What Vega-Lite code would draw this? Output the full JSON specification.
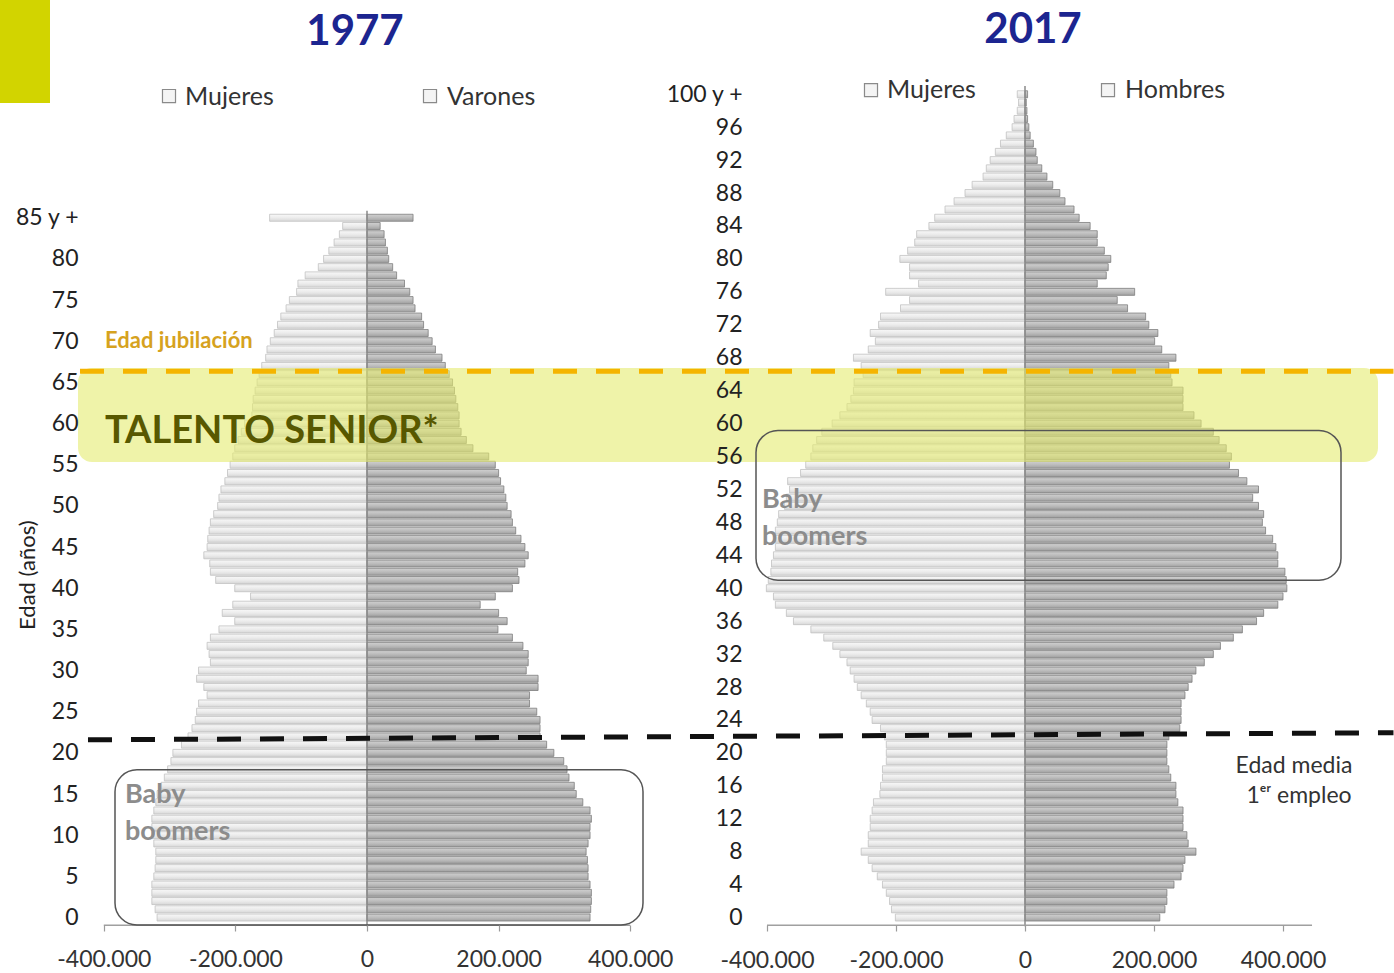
{
"$schema": "https://vega.github.io/schema/vega-lite/v6.json",
"width": 1394, "height": 973, "autosize": {"type": "none"}, "padding": 0,
"background": "white",
"config": {"view": {"stroke": null}, "font": "Lato", "axis": {"grid": false}},
"datasets": {
"y1977": [
{"a":0,"m":-319000,"v":339000},{"a":1,"m":-322000,"v":340000},{"a":2,"m":-327000,"v":341000},{"a":3,"m":-327000,"v":341000},{"a":4,"m":-327000,"v":339000},
{"a":5,"m":-324000,"v":336000},{"a":6,"m":-322000,"v":336000},{"a":7,"m":-321000,"v":335000},{"a":8,"m":-321000,"v":333000},{"a":9,"m":-324000,"v":336000},
{"a":10,"m":-327000,"v":339000},{"a":11,"m":-327000,"v":339000},{"a":12,"m":-327000,"v":341000},{"a":13,"m":-324000,"v":339000},{"a":14,"m":-321000,"v":328000},
{"a":15,"m":-319000,"v":318000},{"a":16,"m":-313000,"v":315000},{"a":17,"m":-308000,"v":307000},{"a":18,"m":-303000,"v":304000},{"a":19,"m":-298000,"v":299000},
{"a":20,"m":-295000,"v":284000},{"a":21,"m":-282000,"v":273000},{"a":22,"m":-272000,"v":263000},{"a":23,"m":-266000,"v":263000},{"a":24,"m":-261000,"v":263000},
{"a":25,"m":-259000,"v":258000},{"a":26,"m":-256000,"v":247000},{"a":27,"m":-243000,"v":247000},{"a":28,"m":-248000,"v":260000},{"a":29,"m":-259000,"v":260000},
{"a":30,"m":-256000,"v":242000},{"a":31,"m":-238000,"v":245000},{"a":32,"m":-240000,"v":245000},{"a":33,"m":-243000,"v":237000},{"a":34,"m":-238000,"v":221000},
{"a":35,"m":-225000,"v":199000},{"a":36,"m":-201000,"v":213000},{"a":37,"m":-220000,"v":200000},{"a":38,"m":-204000,"v":172000},{"a":39,"m":-177000,"v":195000},
{"a":40,"m":-201000,"v":221000},{"a":41,"m":-230000,"v":231000},{"a":42,"m":-238000,"v":229000},{"a":43,"m":-239000,"v":240000},{"a":44,"m":-248000,"v":245000},
{"a":45,"m":-243000,"v":240000},{"a":46,"m":-242000,"v":234000},{"a":47,"m":-240000,"v":226000},{"a":48,"m":-238000,"v":221000},{"a":49,"m":-233000,"v":219000},
{"a":50,"m":-227000,"v":213000},{"a":51,"m":-225000,"v":211000},{"a":52,"m":-222000,"v":208000},{"a":53,"m":-216000,"v":203000},{"a":54,"m":-212000,"v":200000},
{"a":55,"m":-208000,"v":195000},{"a":56,"m":-204000,"v":185000},{"a":57,"m":-201000,"v":161000},{"a":58,"m":-196000,"v":151000},{"a":59,"m":-191000,"v":143000},
{"a":60,"m":-186000,"v":140000},{"a":61,"m":-175000,"v":140000},{"a":62,"m":-174000,"v":138000},{"a":63,"m":-173000,"v":135000},{"a":64,"m":-170000,"v":133000},
{"a":65,"m":-167000,"v":130000},{"a":66,"m":-164000,"v":125000},{"a":67,"m":-160000,"v":119000},{"a":68,"m":-154000,"v":114000},{"a":69,"m":-152000,"v":104000},
{"a":70,"m":-147000,"v":99000},{"a":71,"m":-141000,"v":93000},{"a":72,"m":-136000,"v":86000},{"a":73,"m":-131000,"v":83000},{"a":74,"m":-123000,"v":73000},
{"a":75,"m":-118000,"v":70000},{"a":76,"m":-107000,"v":65000},{"a":77,"m":-105000,"v":57000},{"a":78,"m":-94000,"v":45000},{"a":79,"m":-74000,"v":39000},
{"a":80,"m":-66000,"v":33000},{"a":81,"m":-58000,"v":31000},{"a":82,"m":-50000,"v":28000},{"a":83,"m":-42000,"v":26000},{"a":84,"m":-37000,"v":20000},
{"a":85,"m":-148000,"v":70000}
],
"y2017": [
{"a":0,"m":-201000,"v":209000},{"a":1,"m":-207000,"v":217000},{"a":2,"m":-210000,"v":220000},{"a":3,"m":-215000,"v":220000},{"a":4,"m":-221000,"v":231000},
{"a":5,"m":-229000,"v":242000},{"a":6,"m":-237000,"v":245000},{"a":7,"m":-243000,"v":248000},{"a":8,"m":-254000,"v":265000},{"a":9,"m":-243000,"v":253000},
{"a":10,"m":-243000,"v":251000},{"a":11,"m":-240000,"v":245000},{"a":12,"m":-240000,"v":245000},{"a":13,"m":-237000,"v":245000},{"a":14,"m":-235000,"v":237000},
{"a":15,"m":-225000,"v":234000},{"a":16,"m":-224000,"v":234000},{"a":17,"m":-221000,"v":226000},{"a":18,"m":-221000,"v":223000},{"a":19,"m":-215000,"v":220000},
{"a":20,"m":-215000,"v":220000},{"a":21,"m":-215000,"v":220000},{"a":22,"m":-218000,"v":223000},{"a":23,"m":-224000,"v":240000},{"a":24,"m":-237000,"v":242000},
{"a":25,"m":-240000,"v":242000},{"a":26,"m":-246000,"v":242000},{"a":27,"m":-254000,"v":248000},{"a":28,"m":-260000,"v":253000},{"a":29,"m":-265000,"v":259000},
{"a":30,"m":-271000,"v":265000},{"a":31,"m":-276000,"v":278000},{"a":32,"m":-287000,"v":292000},{"a":33,"m":-298000,"v":303000},{"a":34,"m":-312000,"v":323000},
{"a":35,"m":-332000,"v":337000},{"a":36,"m":-359000,"v":359000},{"a":37,"m":-370000,"v":370000},{"a":38,"m":-387000,"v":392000},{"a":39,"m":-390000,"v":400000},
{"a":40,"m":-401000,"v":406000},{"a":41,"m":-398000,"v":405000},{"a":42,"m":-394000,"v":403000},{"a":43,"m":-393000,"v":392000},{"a":44,"m":-390000,"v":392000},
{"a":45,"m":-387000,"v":389000},{"a":46,"m":-387000,"v":384000},{"a":47,"m":-387000,"v":373000},{"a":48,"m":-384000,"v":368000},{"a":49,"m":-382000,"v":370000},
{"a":50,"m":-373000,"v":362000},{"a":51,"m":-370000,"v":353000},{"a":52,"m":-365000,"v":362000},{"a":53,"m":-368000,"v":344000},{"a":54,"m":-348000,"v":331000},
{"a":55,"m":-340000,"v":317000},{"a":56,"m":-332000,"v":320000},{"a":57,"m":-329000,"v":312000},{"a":58,"m":-323000,"v":301000},{"a":59,"m":-315000,"v":292000},
{"a":60,"m":-299000,"v":273000},{"a":61,"m":-287000,"v":262000},{"a":62,"m":-276000,"v":245000},{"a":63,"m":-270000,"v":245000},{"a":64,"m":-266000,"v":245000},
{"a":65,"m":-265000,"v":228000},{"a":66,"m":-251000,"v":226000},{"a":67,"m":-254000,"v":223000},{"a":68,"m":-266000,"v":234000},{"a":69,"m":-243000,"v":212000},
{"a":70,"m":-232000,"v":201000},{"a":71,"m":-240000,"v":206000},{"a":72,"m":-227000,"v":192000},{"a":73,"m":-224000,"v":187000},{"a":74,"m":-193000,"v":159000},
{"a":75,"m":-179000,"v":143000},{"a":76,"m":-216000,"v":170000},{"a":77,"m":-165000,"v":112000},{"a":78,"m":-179000,"v":126000},{"a":79,"m":-179000,"v":129000},
{"a":80,"m":-194000,"v":133000},{"a":81,"m":-182000,"v":123000},{"a":82,"m":-171000,"v":112000},{"a":83,"m":-168000,"v":112000},{"a":84,"m":-149000,"v":101000},
{"a":85,"m":-140000,"v":84000},{"a":86,"m":-124000,"v":76000},{"a":87,"m":-110000,"v":62000},{"a":88,"m":-93000,"v":54000},{"a":89,"m":-82000,"v":43000},
{"a":90,"m":-65000,"v":34000},{"a":91,"m":-60000,"v":26000},{"a":92,"m":-54000,"v":19000},{"a":93,"m":-46000,"v":17000},{"a":94,"m":-38000,"v":13000},
{"a":95,"m":-29000,"v":8000},{"a":96,"m":-20000,"v":6000},{"a":97,"m":-17000,"v":4000},{"a":98,"m":-12000,"v":3000},{"a":99,"m":-10000,"v":2000},
{"a":100,"m":-12000,"v":4000}
]
},
"layer": [
{"data": {"name": "y2017"},
 "mark": {"type": "bar", "orient": "horizontal", "size": 7, "fill": {"gradient": "linear", "x1": 0, "y1": 0, "x2": 0, "y2": 1, "stops": [{"offset": 0, "color": "#f8f8f8"}, {"offset": 0.5, "color": "#ececec"}, {"offset": 1, "color": "#d8d8d8"}]}, "stroke": "#c2c2c2", "strokeWidth": 0.8},
 "encoding": {
  "x": {"field": "m", "type": "quantitative", "scale": {"domain": [-1589147, 572093], "nice": false, "zero": false},
        "axis": {"orient": "bottom", "values": [-400000, -200000, 0, 200000, 400000], "labelExpr": "(datum.value < 0 ? '-' : '') + replace(format(abs(datum.value), ','), ',', '.')", "domain": false, "ticks": true, "tickSize": 6, "tickColor": "#9a9a9a", "tickWidth": 1.2, "offset": -48, "labelPadding": 18, "labelFontSize": 23, "labelColor": "#333333", "labelFont": "Lato", "title": null, "grid": false, "zindex": 2}},
  "x2": {"datum": 0},
  "y": {"field": "a", "type": "quantitative", "scale": {"domain": [-6.131, 110.844], "nice": false, "zero": false},
        "axis": {"orient": "left", "values": [0,4,8,12,16,20,24,28,32,36,40,44,48,52,56,60,64,68,72,76,80,84,88,92,96,100], "labelExpr": "datum.value == 100 ? '100 y +' : datum.label", "domain": false, "ticks": false, "tickSize": 0, "offset": -744, "labelPadding": 2, "labelFontSize": 23, "labelColor": "#222222", "labelFont": "Lato", "title": null, "grid": false, "zindex": 2}}
 }},
{"data": {"name": "y2017"},
 "mark": {"type": "bar", "orient": "horizontal", "size": 7, "fill": {"gradient": "linear", "x1": 0, "y1": 0, "x2": 0, "y2": 1, "stops": [{"offset": 0, "color": "#d0d0d0"}, {"offset": 0.5, "color": "#bcbcbc"}, {"offset": 1, "color": "#a0a0a0"}]}, "stroke": "#7e7e7e", "strokeWidth": 0.8},
 "encoding": {
  "x": {"field": "v", "type": "quantitative", "scale": {"domain": [-1589147, 572093], "nice": false, "zero": false}, "axis": null},
  "x2": {"datum": 0},
  "y": {"field": "a", "type": "quantitative", "scale": {"domain": [-6.131, 110.844], "nice": false, "zero": false}, "axis": null}
 }},
{"data": {"values": [{}]},
 "mark": {"type": "rule", "color": "#8a8a8a", "strokeWidth": 1.5},
 "encoding": {"x": {"datum": 0, "scale": {"domain": [-1589147, 572093], "nice": false, "zero": false}, "axis": null}, "y": {"datum": -0.5, "scale": {"domain": [-6.131, 110.844], "nice": false, "zero": false}, "axis": null}, "y2": {"datum": 100.5}}},
{"data": {"values": [{}]},
 "mark": {"type": "rule", "color": "#a0a0a0", "strokeWidth": 1.5},
 "encoding": {"x": {"datum": -400000, "scale": {"domain": [-1589147, 572093], "nice": false, "zero": false}, "axis": null}, "x2": {"datum": 445000}, "y": {"datum": -0.4, "scale": {"domain": [-6.131, 110.844], "nice": false, "zero": false}, "axis": null}}},
{"data": {"name": "y1977"},
 "mark": {"type": "bar", "orient": "horizontal", "size": 7, "fill": {"gradient": "linear", "x1": 0, "y1": 0, "x2": 0, "y2": 1, "stops": [{"offset": 0, "color": "#f8f8f8"}, {"offset": 0.5, "color": "#ececec"}, {"offset": 1, "color": "#d8d8d8"}]}, "stroke": "#c2c2c2", "strokeWidth": 0.8},
 "encoding": {
  "x": {"field": "m", "type": "quantitative", "scale": {"domain": [-557751, 1560790], "nice": false, "zero": false},
        "axis": {"orient": "bottom", "values": [-400000, -200000, 0, 200000, 400000], "labelExpr": "(datum.value < 0 ? '-' : '') + replace(format(abs(datum.value), ','), ',', '.')", "domain": false, "ticks": true, "tickSize": 6, "tickColor": "#9a9a9a", "tickWidth": 1.2, "offset": -48, "labelPadding": 17, "labelFontSize": 23, "labelColor": "#333333", "labelFont": "Lato", "title": null, "grid": false, "zindex": 2}},
  "x2": {"datum": 0},
  "y": {"field": "a", "type": "quantitative", "scale": {"domain": [-6.131, 110.844], "nice": false, "zero": false},
        "axis": {"orient": "left", "values": [0,5,10,15,20,25,30,35,40,45,50,55,60,65,70,75,80,85], "labelExpr": "datum.value == 85 ? '85 y +' : datum.label", "domain": false, "ticks": false, "tickSize": 0, "offset": -80, "labelPadding": 2, "labelFontSize": 23, "labelColor": "#222222", "labelFont": "Lato", "title": null, "grid": false, "zindex": 2}}
 }},
{"data": {"name": "y1977"},
 "mark": {"type": "bar", "orient": "horizontal", "size": 7, "fill": {"gradient": "linear", "x1": 0, "y1": 0, "x2": 0, "y2": 1, "stops": [{"offset": 0, "color": "#d0d0d0"}, {"offset": 0.5, "color": "#bcbcbc"}, {"offset": 1, "color": "#a0a0a0"}]}, "stroke": "#7e7e7e", "strokeWidth": 0.8},
 "encoding": {
  "x": {"field": "v", "type": "quantitative", "scale": {"domain": [-557751, 1560790], "nice": false, "zero": false}, "axis": null},
  "x2": {"datum": 0},
  "y": {"field": "a", "type": "quantitative", "scale": {"domain": [-6.131, 110.844], "nice": false, "zero": false}, "axis": null}
 }},
{"data": {"values": [{}]},
 "mark": {"type": "rule", "color": "#8a8a8a", "strokeWidth": 1.5},
 "encoding": {"x": {"datum": 0, "scale": {"domain": [-557751, 1560790], "nice": false, "zero": false}, "axis": null}, "y": {"datum": -0.5, "scale": {"domain": [-6.131, 110.844], "nice": false, "zero": false}, "axis": null}, "y2": {"datum": 85.5}}},
{"data": {"values": [{}]},
 "mark": {"type": "rule", "color": "#a0a0a0", "strokeWidth": 1.5},
 "encoding": {"x": {"datum": -400000, "scale": {"domain": [-557751, 1560790], "nice": false, "zero": false}, "axis": null}, "x2": {"datum": 400000}, "y": {"datum": -0.4, "scale": {"domain": [-6.131, 110.844], "nice": false, "zero": false}, "axis": null}}},
{"data": {"values": [{}]},
 "mark": {"type": "rect", "color": "#e4eb70", "opacity": 0.6, "cornerRadius": 14},
 "encoding": {"x": {"datum": -439211, "scale": {"domain": [-557751, 1560790], "nice": false, "zero": false}, "axis": null}, "x2": {"datum": 1536477}, "y": {"datum": 55.3, "scale": {"domain": [-6.131, 110.844], "nice": false, "zero": false}, "axis": null}, "y2": {"datum": 66.6}}},
{"data": {"values": [{}]},
 "mark": {"type": "rule", "color": "#f5b400", "strokeWidth": 5, "strokeDash": [24, 19]},
 "encoding": {"x": {"datum": -436171, "scale": {"domain": [-557751, 1560790], "nice": false, "zero": false}, "axis": null}, "x2": {"datum": 1560000}, "y": {"datum": 66.2, "scale": {"domain": [-6.131, 110.844], "nice": false, "zero": false}, "axis": null}}},
{"data": {"values": [{}]},
 "mark": {"type": "rule", "color": "#111111", "strokeWidth": 5, "strokeDash": [24, 19]},
 "encoding": {"x": {"datum": -424013, "scale": {"domain": [-557751, 1560790], "nice": false, "zero": false}, "axis": null}, "x2": {"datum": 1560000}, "y": {"datum": 21.9, "scale": {"domain": [-6.131, 110.844], "nice": false, "zero": false}, "axis": null}, "y2": {"datum": 22.75}}},
{"data": {"values": [{}]},
 "mark": {"type": "rect", "filled": false, "stroke": "#555555", "strokeWidth": 1.5, "cornerRadius": 22},
 "encoding": {"x": {"datum": -382980, "scale": {"domain": [-557751, 1560790], "nice": false, "zero": false}, "axis": null}, "x2": {"datum": 419454}, "y": {"datum": -0.36, "scale": {"domain": [-6.131, 110.844], "nice": false, "zero": false}, "axis": null}, "y2": {"datum": 18.3}}},
{"data": {"values": [{}]},
 "mark": {"type": "rect", "filled": false, "stroke": "#555555", "strokeWidth": 1.5, "cornerRadius": 22},
 "encoding": {"x": {"datum": 591187, "scale": {"domain": [-557751, 1560790], "nice": false, "zero": false}, "axis": null}, "x2": {"datum": 1480246}, "y": {"datum": 41.1, "scale": {"domain": [-6.131, 110.844], "nice": false, "zero": false}, "axis": null}, "y2": {"datum": 59.1}}},
{"data": {"values": [{}]},
 "mark": {"type": "rect", "color": "#d2d400"},
 "encoding": {"x": {"datum": -560000, "scale": {"domain": [-557751, 1560790], "nice": false, "zero": false}, "axis": null}, "x2": {"datum": -481764}, "y": {"datum": 98.46, "scale": {"domain": [-6.131, 110.844], "nice": false, "zero": false}, "axis": null}, "y2": {"datum": 111}}},
{"data": {"values": [{}]},
 "mark": {"type": "text", "text": "1977", "font": "Lato", "fontWeight": "bold", "fontSize": 42, "color": "#1c2590", "align": "center", "baseline": "middle"},
 "encoding": {"x": {"datum": -18237, "scale": {"domain": [-557751, 1560790], "nice": false, "zero": false}, "axis": null}, "y": {"datum": 107.0, "scale": {"domain": [-6.131, 110.844], "nice": false, "zero": false}, "axis": null}}},
{"data": {"values": [{}]},
 "mark": {"type": "text", "text": "2017", "font": "Lato", "fontWeight": "bold", "fontSize": 42, "color": "#1c2590", "align": "center", "baseline": "middle"},
 "encoding": {"x": {"datum": 1012160, "scale": {"domain": [-557751, 1560790], "nice": false, "zero": false}, "axis": null}, "y": {"datum": 107.2, "scale": {"domain": [-6.131, 110.844], "nice": false, "zero": false}, "axis": null}}},
{"data": {"values": [{}]},
 "mark": {"type": "point", "shape": "square", "size": 170, "filled": true, "fill": "#f4f4f4", "stroke": "#8a8a8a", "strokeWidth": 1.2, "opacity": 1},
 "encoding": {"x": {"datum": -300912, "scale": {"domain": [-557751, 1560790], "nice": false, "zero": false}, "axis": null}, "y": {"datum": 99.3, "scale": {"domain": [-6.131, 110.844], "nice": false, "zero": false}, "axis": null}}},
{"data": {"values": [{}]},
 "mark": {"type": "point", "shape": "square", "size": 170, "filled": true, "fill": "#f4f4f4", "stroke": "#8a8a8a", "strokeWidth": 1.2, "opacity": 1},
 "encoding": {"x": {"datum": 95745, "scale": {"domain": [-557751, 1560790], "nice": false, "zero": false}, "axis": null}, "y": {"datum": 99.3, "scale": {"domain": [-6.131, 110.844], "nice": false, "zero": false}, "axis": null}}},
{"data": {"values": [{}]},
 "mark": {"type": "point", "shape": "square", "size": 170, "filled": true, "fill": "#f4f4f4", "stroke": "#8a8a8a", "strokeWidth": 1.2, "opacity": 1},
 "encoding": {"x": {"datum": 765959, "scale": {"domain": [-557751, 1560790], "nice": false, "zero": false}, "axis": null}, "y": {"datum": 100.0, "scale": {"domain": [-6.131, 110.844], "nice": false, "zero": false}, "axis": null}}},
{"data": {"values": [{}]},
 "mark": {"type": "point", "shape": "square", "size": 170, "filled": true, "fill": "#f4f4f4", "stroke": "#8a8a8a", "strokeWidth": 1.2, "opacity": 1},
 "encoding": {"x": {"datum": 1126142, "scale": {"domain": [-557751, 1560790], "nice": false, "zero": false}, "axis": null}, "y": {"datum": 100.0, "scale": {"domain": [-6.131, 110.844], "nice": false, "zero": false}, "axis": null}}},
{"data": {"values": [{}]},
 "mark": {"type": "text", "text": "Mujeres", "font": "Lato", "fontSize": 25, "color": "#333333", "align": "left", "baseline": "middle"},
 "encoding": {"x": {"datum": -276596, "scale": {"domain": [-557751, 1560790], "nice": false, "zero": false}, "axis": null}, "y": {"datum": 99.2, "scale": {"domain": [-6.131, 110.844], "nice": false, "zero": false}, "axis": null}}},
{"data": {"values": [{}]},
 "mark": {"type": "text", "text": "Varones", "font": "Lato", "fontSize": 25, "color": "#333333", "align": "left", "baseline": "middle"},
 "encoding": {"x": {"datum": 121581, "scale": {"domain": [-557751, 1560790], "nice": false, "zero": false}, "axis": null}, "y": {"datum": 99.2, "scale": {"domain": [-6.131, 110.844], "nice": false, "zero": false}, "axis": null}}},
{"data": {"values": [{}]},
 "mark": {"type": "text", "text": "Mujeres", "font": "Lato", "fontSize": 25, "color": "#333333", "align": "left", "baseline": "middle"},
 "encoding": {"x": {"datum": 790275, "scale": {"domain": [-557751, 1560790], "nice": false, "zero": false}, "axis": null}, "y": {"datum": 100.0, "scale": {"domain": [-6.131, 110.844], "nice": false, "zero": false}, "axis": null}}},
{"data": {"values": [{}]},
 "mark": {"type": "text", "text": "Hombres", "font": "Lato", "fontSize": 25, "color": "#333333", "align": "left", "baseline": "middle"},
 "encoding": {"x": {"datum": 1151978, "scale": {"domain": [-557751, 1560790], "nice": false, "zero": false}, "axis": null}, "y": {"datum": 100.0, "scale": {"domain": [-6.131, 110.844], "nice": false, "zero": false}, "axis": null}}},
{"data": {"values": [{}]},
 "mark": {"type": "text", "text": "Edad (años)", "font": "Lato", "fontSize": 22, "color": "#222222", "align": "center", "baseline": "middle", "angle": 270},
 "encoding": {"x": {"datum": -515199, "scale": {"domain": [-557751, 1560790], "nice": false, "zero": false}, "axis": null}, "y": {"datum": 41.7, "scale": {"domain": [-6.131, 110.844], "nice": false, "zero": false}, "axis": null}}},
{"data": {"values": [{}]},
 "mark": {"type": "text", "text": "Edad jubilación", "font": "Lato", "fontWeight": "bold", "fontSize": 22, "color": "#d6a21e", "align": "left", "baseline": "middle"},
 "encoding": {"x": {"datum": -398177, "scale": {"domain": [-557751, 1560790], "nice": false, "zero": false}, "axis": null}, "y": {"datum": 69.85, "scale": {"domain": [-6.131, 110.844], "nice": false, "zero": false}, "axis": null}}},
{"data": {"values": [{}]},
 "mark": {"type": "text", "text": "TALENTO SENIOR*", "font": "Lato", "fontWeight": "bold", "fontSize": 38, "letterSpacing": 0.7, "color": "#585800", "align": "left", "baseline": "middle"},
 "encoding": {"x": {"datum": -398177, "scale": {"domain": [-557751, 1560790], "nice": false, "zero": false}, "axis": null}, "y": {"datum": 58.9, "scale": {"domain": [-6.131, 110.844], "nice": false, "zero": false}, "axis": null}}},
{"data": {"values": [{}]},
 "mark": {"type": "text", "text": "Baby", "font": "Lato", "fontWeight": "bold", "fontSize": 27, "letterSpacing": 0.5, "color": "#8c8c8c", "align": "left", "baseline": "middle"},
 "encoding": {"x": {"datum": -367782, "scale": {"domain": [-557751, 1560790], "nice": false, "zero": false}, "axis": null}, "y": {"datum": 15.27, "scale": {"domain": [-6.131, 110.844], "nice": false, "zero": false}, "axis": null}}},
{"data": {"values": [{}]},
 "mark": {"type": "text", "text": "boomers", "font": "Lato", "fontWeight": "bold", "fontSize": 27, "letterSpacing": 0.5, "color": "#8c8c8c", "align": "left", "baseline": "middle"},
 "encoding": {"x": {"datum": -367782, "scale": {"domain": [-557751, 1560790], "nice": false, "zero": false}, "axis": null}, "y": {"datum": 10.82, "scale": {"domain": [-6.131, 110.844], "nice": false, "zero": false}, "axis": null}}},
{"data": {"values": [{}]},
 "mark": {"type": "text", "text": "Baby", "font": "Lato", "fontWeight": "bold", "fontSize": 27, "letterSpacing": 0.5, "color": "#8c8c8c", "align": "left", "baseline": "middle"},
 "encoding": {"x": {"datum": 600306, "scale": {"domain": [-557751, 1560790], "nice": false, "zero": false}, "axis": null}, "y": {"datum": 50.7, "scale": {"domain": [-6.131, 110.844], "nice": false, "zero": false}, "axis": null}}},
{"data": {"values": [{}]},
 "mark": {"type": "text", "text": "boomers", "font": "Lato", "fontWeight": "bold", "fontSize": 27, "letterSpacing": 0.5, "color": "#8c8c8c", "align": "left", "baseline": "middle"},
 "encoding": {"x": {"datum": 600306, "scale": {"domain": [-557751, 1560790], "nice": false, "zero": false}, "axis": null}, "y": {"datum": 46.3, "scale": {"domain": [-6.131, 110.844], "nice": false, "zero": false}, "axis": null}}},
{"data": {"values": [{}]},
 "mark": {"type": "text", "text": "Edad media", "font": "Lato", "fontSize": 23, "color": "#333333", "align": "center", "baseline": "middle"},
 "encoding": {"x": {"datum": 1408817, "scale": {"domain": [-557751, 1560790], "nice": false, "zero": false}, "axis": null}, "y": {"datum": 18.75, "scale": {"domain": [-6.131, 110.844], "nice": false, "zero": false}, "axis": null}}},
{"data": {"values": [{}]},
 "mark": {"type": "text", "text": "1ᵉʳ empleo", "font": "Lato", "fontSize": 23, "color": "#333333", "align": "center", "baseline": "middle"},
 "encoding": {"x": {"datum": 1416416, "scale": {"domain": [-557751, 1560790], "nice": false, "zero": false}, "axis": null}, "y": {"datum": 15.15, "scale": {"domain": [-6.131, 110.844], "nice": false, "zero": false}, "axis": null}}}
],
"resolve": {"scale": {"x": "independent", "y": "independent"}, "axis": {"x": "independent", "y": "independent"}}
}
